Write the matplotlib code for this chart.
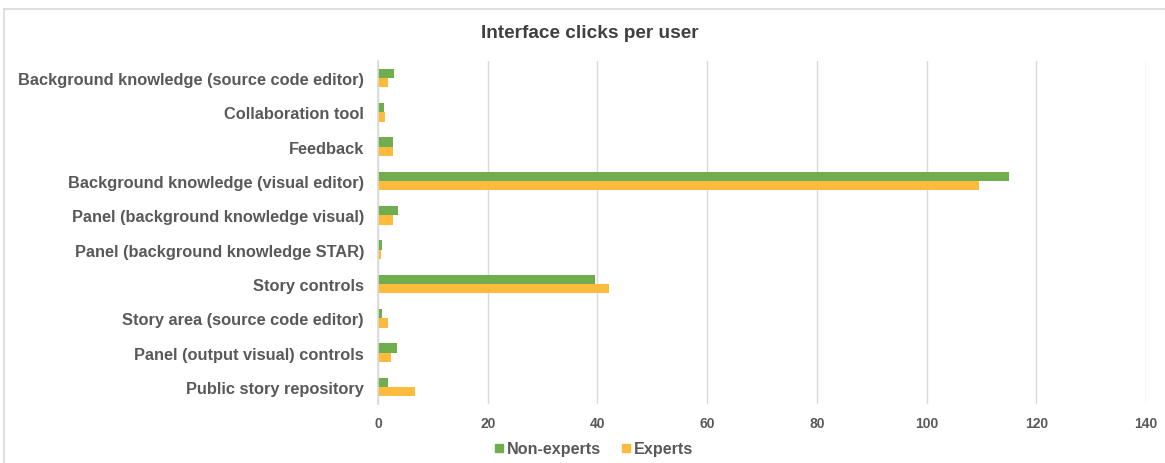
import numpy as np
import matplotlib
matplotlib.use("Agg")
import matplotlib.pyplot as plt
from matplotlib.lines import Line2D

# Interface clicks per user, per interface element
categories = [
    "Background knowledge (source code editor)",
    "Collaboration tool",
    "Feedback",
    "Background knowledge (visual editor)",
    "Panel (background knowledge visual)",
    "Panel (background knowledge STAR)",
    "Story controls",
    "Story area (source code editor)",
    "Panel (output visual) controls",
    "Public story repository",
]
non_experts = [3.0, 1.15, 2.65, 115.1, 3.6, 0.8, 39.5, 0.8, 3.4, 1.9]
experts = [1.8, 1.3, 2.65, 109.6, 2.65, 0.55, 42.1, 1.8, 2.3, 6.8]
x_ticks = [0, 20, 40, 60, 80, 100, 120, 140]

green = "#70AD4F"
gold = "#FCBB3C"
text_gray = "#595959"
grid_gray = "#D9D9D9"

plt.rcParams["font.family"] = ["Liberation Sans", "DejaVu Sans"]

fig = plt.figure(figsize=(11.65, 4.64), dpi=100)
ax = fig.add_axes([378 / 1165, 59 / 464, (1146 - 378) / 1165, (405 - 62) / 464])

y = np.arange(len(categories))
h = 0.27
ax.barh(y - h / 2, non_experts, height=h, color=green, label="Non-experts", zorder=3)
ax.barh(y + h / 2, experts, height=h, color=gold, label="Experts", zorder=3)

ax.set_xlim(0, 140)
ax.set_ylim(len(categories) - 0.5, -0.5)
ax.set_xticks(x_ticks)
ax.set_yticks(y)
ax.set_yticklabels(categories)
ax.tick_params(axis="y", length=0, pad=10, labelsize=11.8, labelcolor=text_gray)
ax.tick_params(axis="x", length=0, pad=9, labelsize=10, labelcolor=text_gray)
for lbl in ax.get_yticklabels() + ax.get_xticklabels():
    lbl.set_fontweight("bold")

ax.grid(axis="x", color=grid_gray, linewidth=1, zorder=0)
for side in ["top", "right", "bottom"]:
    ax.spines[side].set_visible(False)
ax.spines["left"].set_color(grid_gray)
ax.spines["left"].set_linewidth(1.2)
ax.spines["left"].set_zorder(4)

fig.text(0.506, 1 - 33 / 464, "Interface clicks per user", ha="center", va="center",
         fontsize=13.7, fontweight="bold", color="#404040")

handles = [
    Line2D([], [], marker="s", linestyle="none", markersize=6, color=green),
    Line2D([], [], marker="s", linestyle="none", markersize=6, color=gold),
]
leg = fig.legend(handles, ["Non-experts", "Experts"], loc="center",
                 bbox_to_anchor=(0.51, 1 - 450 / 464), ncol=2, frameon=False,
                 handlelength=0.5, handletextpad=0.25, columnspacing=1.3,
                 prop={"size": 11.6, "weight": "bold"})
for t in leg.get_texts():
    t.set_color(text_gray)

# light frame around the chart area
fig.add_artist(Line2D([4 / 1165, 1], [1 - 10 / 464, 1 - 10 / 464],
                      transform=fig.transFigure, color="#D9D9D9", linewidth=1.2))
fig.add_artist(Line2D([4 / 1165, 4 / 1165], [0, 1 - 10 / 464],
                      transform=fig.transFigure, color="#D9D9D9", linewidth=1.2))

fig.savefig("out.png", dpi=100, facecolor="white")
